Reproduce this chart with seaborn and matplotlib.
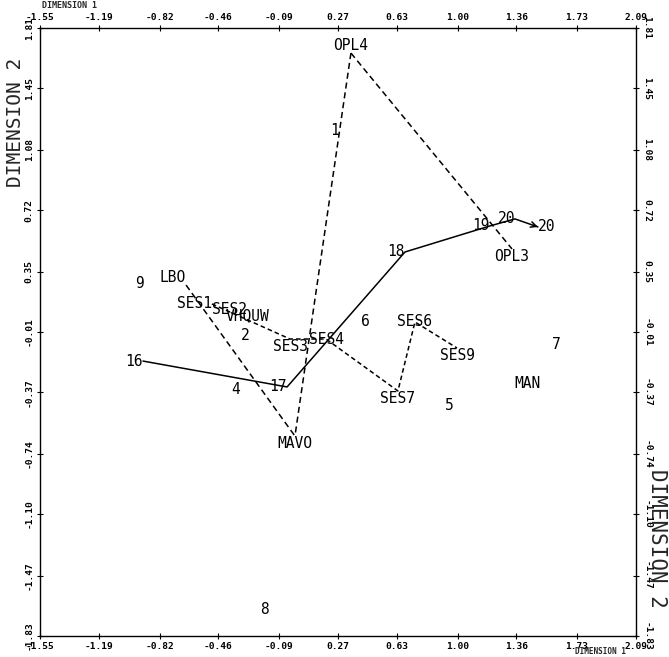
import numpy as np
import pandas as pd
import matplotlib
matplotlib.use("Agg")
import matplotlib.pyplot as plt
import seaborn as sns

# ---------------- data ----------------
x_tick_labels = ["-1.55", "-1.19", "-0.82", "-0.46", "-0.09", "0.27",
                 "0.63", "1.00", "1.36", "1.73", "2.09"]
y_tick_labels = ["1.81", "1.45", "1.08", "0.72", "0.35", "-0.01",
                 "-0.37", "-0.74", "-1.10", "-1.47", "-1.83"]

point_ids = ["OPL4", "OPL3", "MAVO", "LBO", "SES1", "SES2", "VHQUW", "SES3",
             "SES4", "SES7", "SES6", "SES9", "MAN", "1", "2", "4", "5", "6",
             "7", "8", "9", "16", "17", "18", "19", "20a", "20b"]
point_text = ["OPL4", "OPL3", "MAVO", "LBO", "SES1", "SES2", "VHQUW", "SES3",
              "SES4", "SES7", "SES6", "SES9", "MAN", "1", "2", "4", "5", "6",
              "7", "8", "9", "16", "17", "18", "19", "20", "20"]
dim1 = [0.349, 1.333, 0.007, -0.658, -0.500, -0.390, -0.280, -0.023,
        0.197, 0.636, 0.740, 0.997, 1.430, 0.252, -0.298, -0.353, 0.948, 0.435,
        1.601, -0.176, -0.945, -0.921, -0.041, 0.679, 1.198, 1.351, 1.491]
dim2 = [1.660, 0.487, -0.633, 0.271, 0.158, 0.122, 0.086, -0.052,
        -0.052, -0.363, 0.050, -0.106, -0.321, 1.199, -0.028, -0.357, -0.453, 0.050,
        -0.082, -1.674, 0.283, -0.184, -0.339, 0.469, 0.625, 0.667, 0.619]

path_solid = ["16", "17", "18", "19", "20a", "20b"]
path_opl_a = ["OPL4", "MAVO"]
path_opl_b = ["OPL4", "OPL3"]
path_lbo = ["LBO", "MAVO"]
path_ses = ["SES1", "SES3", "SES4", "SES7", "SES6", "SES9"]

# ---------------- build tables ----------------
pts = pd.DataFrame({"id": point_ids, "text": point_text, "x": dim1, "y": dim2}).set_index("id")

paths = {"traj": (path_solid, "solid"), "oa": (path_opl_a, "dash"),
         "ob": (path_opl_b, "dash"), "lbo": (path_lbo, "dash"),
         "ses": (path_ses, "fine")}
rows = []
for name, (ids, kind) in paths.items():
    for i in ids:
        rows.append({"path": name, "kind": kind, "x": pts.loc[i, "x"], "y": pts.loc[i, "y"]})
lines = pd.DataFrame(rows)

align = {"OPL4": ("center", "bottom"), "OPL3": ("center", "top"),
         "MAVO": ("center", "top"), "LBO": ("right", "bottom"),
         "SES1": ("right", "center"), "SES3": ("center", "top"),
         "SES7": ("center", "top"), "SES9": ("center", "top"),
         "16": ("right", "center"), "17": ("right", "center"),
         "18": ("right", "center"), "19": ("right", "center"),
         "20a": ("right", "center"), "20b": ("left", "center")}

# ---------------- style ----------------
sns.set_style("white")
plt.rcParams["font.family"] = ["DejaVu Sans Mono", "DejaVu Sans"]

W, H = 669, 657
fig = plt.figure(figsize=(W / 100, H / 100), dpi=100)
ax = fig.add_axes([40 / W, 21 / H, 596 / W, 608 / H])

sns.lineplot(data=lines, x="x", y="y", units="path", style="kind",
             dashes={"solid": "", "dash": (4, 2.5), "fine": (3, 2)},
             estimator=None, sort=False, color="black", linewidth=1.1,
             legend=False, ax=ax)

# arrow head at the end of the trajectory
xa, ya = pts.loc["20a", ["x", "y"]]
xb, yb = pts.loc["20b", ["x", "y"]]
ax.annotate("", xy=(xb, yb), xytext=(xb - 0.2 * (xb - xa), yb - 0.2 * (yb - ya)),
            arrowprops=dict(arrowstyle="->", color="black", lw=1.1,
                            shrinkA=0, shrinkB=0, mutation_scale=10))

for pid, row in pts.iterrows():
    ha, va = align.get(pid, ("center", "center"))
    ax.text(row["x"], row["y"], row["text"], ha=ha, va=va, fontsize=10.5,
            color="black")

xt = [float(v) for v in x_tick_labels]
yt = [float(v) for v in y_tick_labels]
ax.set_xlim(-1.55, 2.09)
ax.set_ylim(-1.83, 1.81)
ax.set_xticks(xt, x_tick_labels)
ax.set_yticks(yt, y_tick_labels)
ax.set_xlabel("")
ax.set_ylabel("")
ax.tick_params(axis="both", which="major", direction="inout", length=5,
               width=0.8, color="black", top=True, right=True, bottom=True,
               left=True, labeltop=True, labelright=True, labelsize=6.8,
               pad=2, labelcolor="black")
for lab in ax.get_xticklabels(which="both") + ax.get_yticklabels(which="both"):
    lab.set_fontweight("bold")
for t in ax.xaxis.get_major_ticks():
    t.label1.set_fontweight("bold")
    t.label2.set_fontweight("bold")
for t in ax.yaxis.get_major_ticks():
    t.label1.set_rotation(90)
    t.label1.set_va("center")
    t.label1.set_fontweight("bold")
    t.label2.set_rotation(270)
    t.label2.set_va("center")
    t.label2.set_fontweight("bold")
for s in ax.spines.values():
    s.set_color("black")
    s.set_linewidth(1.0)

fig.text(16 / W, 1 - 122 / H, "DIMENSION 2", rotation=90, ha="center",
         va="center", fontsize=14)
fig.text(657 / W, 1 - 538 / H, "DIMENSION 2", rotation=270, ha="center",
         va="center", fontsize=15)
fig.text(70 / W, 1 - 6 / H, "DIMENSION 1", ha="center", va="center",
         fontsize=6, fontweight="bold")
fig.text(600 / W, 1 - 652 / H, "DIMENSION 1", ha="center", va="center",
         fontsize=5.5, fontweight="bold")

fig.savefig("out.png", dpi=100, facecolor="white")
